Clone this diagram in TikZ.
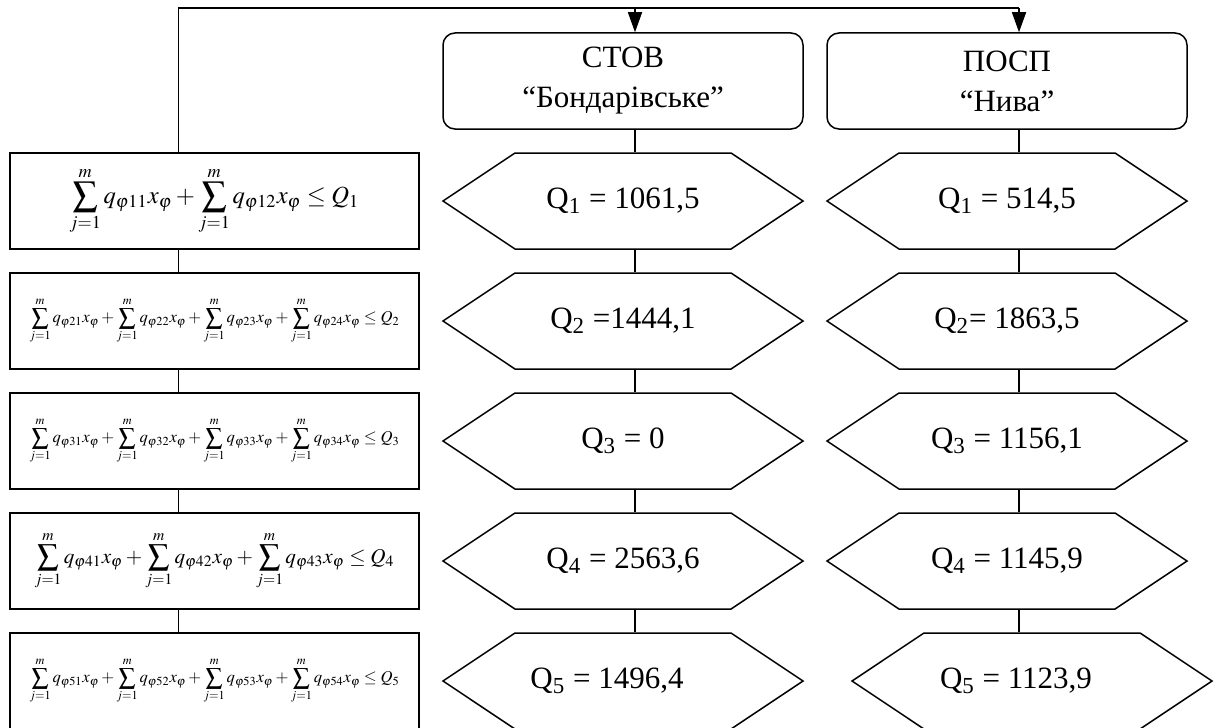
\documentclass[tikz,border=0pt]{standalone}
\usepackage{mathptmx}
\usepackage{fontspec}
\setmainfont{Liberation Serif}
\usetikzlibrary{shapes.symbols,arrows.meta}

\tikzset{
  frmbox/.style={rectangle, draw, line width=0.75bp, minimum width=204.5bp, minimum height=48bp, inner sep=0pt},
  firmbox/.style={rectangle, draw, rounded corners=6bp, line width=0.75bp, minimum width=180bp, minimum height=48bp, align=center, font=\fontsize{15.5bp}{20bp}\selectfont},
  valbox/.style={signal, signal to=west and east, signal pointer angle=67.4, draw, line width=0.75bp, minimum width=180bp, minimum height=48bp, inner sep=0pt, font=\fontsize{15.5bp}{18bp}\selectfont},
  link/.style={line width=0.75bp},
  arr/.style={link, -{Triangle[length=10bp,width=7bp]}}
}

\begin{document}
\begin{tikzpicture}[x=0.5bp, y=-0.5bp]
  \useasboundingbox (0,0) rectangle (1214,727);
  % Firms
  \node (sto) [firmbox] at (623,81) {СТОВ\\“Бондарівське”};
  \node (posp) [firmbox] at (1007,81) {ПОСП\\“Нива”};
  % Constraints
  \node (f1) [frmbox] at (214.5,201) {\resizebox{145bp}{!}{$\displaystyle\sum_{j=1}^{m} q_{\varphi 11}x_{\varphi}+\sum_{j=1}^{m} q_{\varphi 12}x_{\varphi}\le Q_1$}};
  \node (f2) [frmbox] at (214.5,321) {\resizebox{185bp}{!}{$\displaystyle\sum_{j=1}^{m} q_{\varphi 21}x_{\varphi}+\sum_{j=1}^{m} q_{\varphi 22}x_{\varphi}+\sum_{j=1}^{m} q_{\varphi 23}x_{\varphi}+\sum_{j=1}^{m} q_{\varphi 24}x_{\varphi}\le Q_2$}};
  \node (f3) [frmbox] at (214.5,441) {\resizebox{185bp}{!}{$\displaystyle\sum_{j=1}^{m} q_{\varphi 31}x_{\varphi}+\sum_{j=1}^{m} q_{\varphi 32}x_{\varphi}+\sum_{j=1}^{m} q_{\varphi 33}x_{\varphi}+\sum_{j=1}^{m} q_{\varphi 34}x_{\varphi}\le Q_3$}};
  \node (f4) [frmbox] at (214.5,561) {\resizebox{180bp}{!}{$\displaystyle\sum_{j=1}^{m} q_{\varphi 41}x_{\varphi}+\sum_{j=1}^{m} q_{\varphi 42}x_{\varphi}+\sum_{j=1}^{m} q_{\varphi 43}x_{\varphi}\le Q_4$}};
  \node (f5) [frmbox] at (214.5,681) {\resizebox{185bp}{!}{$\displaystyle\sum_{j=1}^{m} q_{\varphi 51}x_{\varphi}+\sum_{j=1}^{m} q_{\varphi 52}x_{\varphi}+\sum_{j=1}^{m} q_{\varphi 53}x_{\varphi}+\sum_{j=1}^{m} q_{\varphi 54}x_{\varphi}\le Q_5$}};
  % Values
  \node (s1) [valbox] at (623,201) {Q\textsubscript{1} = 1061,5};
  \node (s2) [valbox] at (623,321) {Q\textsubscript{2} =1444,1};
  \node (s3) [valbox] at (623,441) {Q\textsubscript{3} = 0};
  \node (s4) [valbox] at (623,561) {Q\textsubscript{4} = 2563,6};
  \node (s5) [valbox] at (623,681) {\hspace*{-16bp}Q\textsubscript{5} = 1496,4};
  \node (p1) [valbox] at (1007,201) {Q\textsubscript{1} = 514,5};
  \node (p2) [valbox] at (1007,321) {Q\textsubscript{2}= 1863,5};
  \node (p3) [valbox] at (1007,441) {Q\textsubscript{3} = 1156,1};
  \node (p4) [valbox] at (1007,561) {Q\textsubscript{4} = 1145,9};
  \node (p5) [valbox] at (1032,681) {\hspace*{-16bp}Q\textsubscript{5} = 1123,9};
  % Lines
  \foreach \a/\b in {f1/f2,f2/f3,f3/f4,f4/f5}
    \draw[link] ([xshift=-18bp]\a.south) -- ([xshift=-18bp]\b.north);
  \foreach \a/\b in {sto/s1,s1/s2,s2/s3,s3/s4,s4/s5,posp/p1,p1/p2,p2/p3,p3/p4,p4/p5}
    \draw[link] ([xshift=6bp]\a.south) -- ([xshift=6bp]\a.south |- \b.north);
  % Arrows
  \draw[link] ([xshift=-18bp]f1.north) |- ([xshift=6bp,yshift=12bp]posp.north) coordinate (top2);
  \draw[arr] (top2) -- ([xshift=6bp]posp.north);
  \draw[arr] ([xshift=6bp,yshift=12bp]sto.north) -- ([xshift=6bp]sto.north);
\end{tikzpicture}
\end{document}
